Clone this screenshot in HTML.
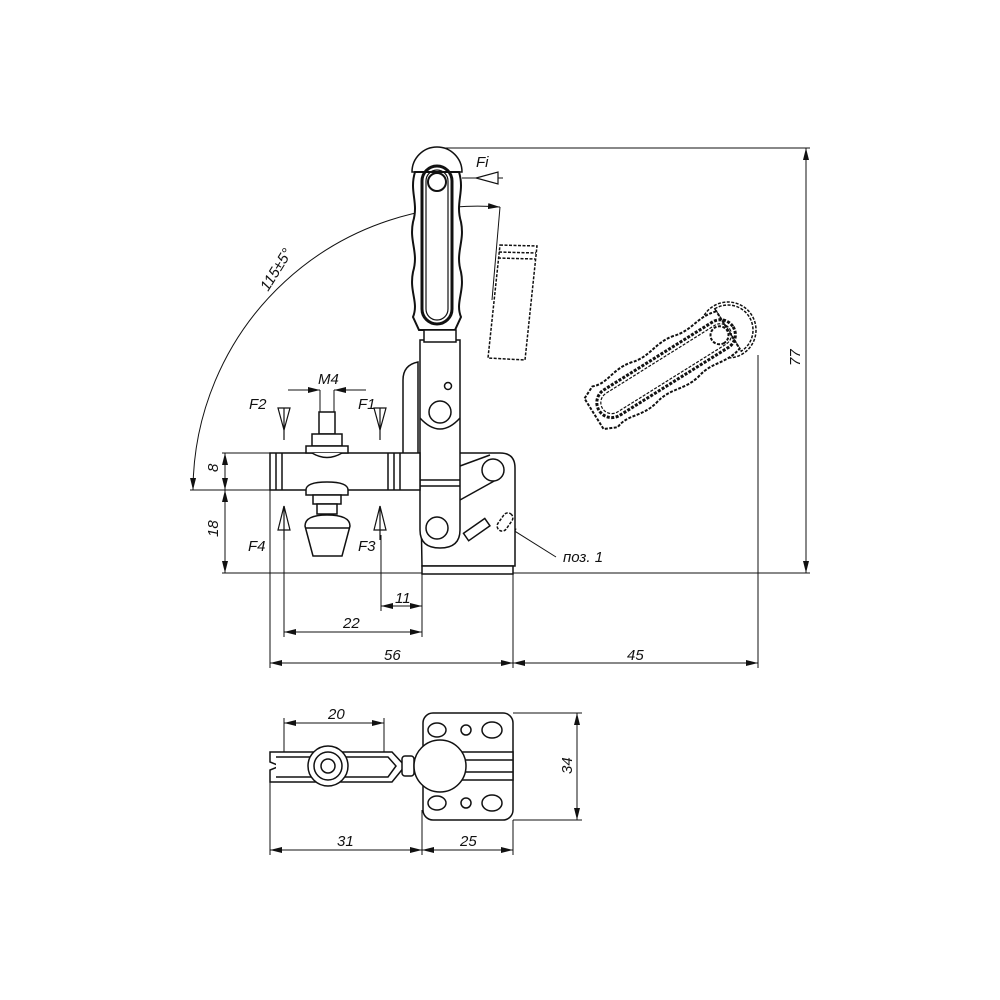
<!DOCTYPE html>
<html><head><meta charset="utf-8"><style>
html,body{margin:0;padding:0;background:#fff}
svg{display:block}
text{font-family:"Liberation Sans",sans-serif;font-style:italic;font-size:15px;fill:#111}
</style></head><body>
<svg width="1000" height="1000" viewBox="0 0 1000 1000" xmlns="http://www.w3.org/2000/svg">
<defs>
<marker id="a" viewBox="0 0 12 6" refX="12" refY="3" markerWidth="12" markerHeight="6" orient="auto-start-reverse" markerUnits="userSpaceOnUse"><path d="M0,0 L12,3 L0,6 z" fill="#111"/></marker>
<g id="handle">
 <path d="M-25,0 A25,25 0 0 1 25,0 Z" fill="#fff" stroke="#111" stroke-width="1.5"/>
 <path d="M-22,0 C-28,20 -18,30 -24,50 C-28,70 -18,80 -24,100 C-28,120 -18,130 -24,145 L-18,158 L18,158 L24,145 C18,130 28,120 24,100 C18,80 28,70 24,50 C18,30 28,20 22,0 Z" fill="#fff" stroke="#111" stroke-width="2"/>
 <rect x="-15" y="-6" width="30" height="158" rx="15" fill="none" stroke="#111" stroke-width="3"/>
 <rect x="-11" y="-2" width="22" height="150" rx="11" fill="none" stroke="#111" stroke-width="1.2"/>
 <circle cx="0" cy="10" r="9" fill="none" stroke="#111" stroke-width="2"/>
</g>
</defs>
<g fill="none" stroke="#111" stroke-width="1">
<!-- dimension 77 -->
<line x1="440" y1="148" x2="810" y2="148"/>
<line x1="222" y1="573" x2="810" y2="573"/>
<line x1="806" y1="148" x2="806" y2="573" marker-start="url(#a)" marker-end="url(#a)"/>
<!-- 8 / 18 -->
<line x1="222" y1="453" x2="272" y2="453"/>
<line x1="190" y1="490" x2="272" y2="490"/>
<line x1="225" y1="453" x2="225" y2="490" marker-start="url(#a)" marker-end="url(#a)"/>
<line x1="225" y1="490" x2="225" y2="573" marker-start="url(#a)" marker-end="url(#a)"/>
<!-- arc -->
<path d="M193,490 A285,285 0 0 1 500,207" marker-start="url(#a)" marker-end="url(#a)"/>
<line x1="500" y1="207" x2="492" y2="300"/>
<!-- extension lines -->
<line x1="270" y1="490" x2="270" y2="668"/>
<line x1="284" y1="535" x2="284" y2="637"/>
<line x1="381" y1="535" x2="381" y2="611"/>
<line x1="422" y1="573" x2="422" y2="637"/>
<line x1="513" y1="573" x2="513" y2="668"/>
<line x1="758" y1="355" x2="758" y2="668"/>
<line x1="381" y1="606" x2="422" y2="606" marker-start="url(#a)" marker-end="url(#a)"/>
<line x1="284" y1="632" x2="422" y2="632" marker-start="url(#a)" marker-end="url(#a)"/>
<line x1="270" y1="663" x2="513" y2="663" marker-start="url(#a)" marker-end="url(#a)"/>
<line x1="513" y1="663" x2="758" y2="663" marker-start="url(#a)" marker-end="url(#a)"/>
<!-- M4 -->
<line x1="288" y1="390" x2="320" y2="390" marker-end="url(#a)"/>
<line x1="366" y1="390" x2="334" y2="390" marker-end="url(#a)"/>
<line x1="320" y1="390" x2="320" y2="412"/><line x1="334" y1="390" x2="334" y2="412"/>
<!-- leader poz 1 -->
<line x1="505" y1="525" x2="556" y2="557" marker-start="url(#a)"/>
<!-- Fi -->
<line x1="462" y1="178" x2="503" y2="178"/>
</g>
<!-- force arrows -->
<g fill="#fff" stroke="#111" stroke-width="1.2">
<path d="M278,408 L290,408 L284,430 Z"/><line x1="284" y1="408" x2="284" y2="440"/>
<path d="M374,408 L386,408 L380,430 Z"/><line x1="380" y1="408" x2="380" y2="440"/>
<path d="M278,530 L290,530 L284,506 Z"/><line x1="284" y1="506" x2="284" y2="540"/>
<path d="M374,530 L386,530 L380,506 Z"/><line x1="380" y1="506" x2="380" y2="540"/>
<path d="M498,172 L498,184 L476,178 Z"/>
</g>
<!-- dashed ghost -->
<g fill="none" stroke="#111" stroke-width="1.5" stroke-dasharray="3,1.5">
<path d="M500,245 L537,246 L525,360 L488,358 Z"/>
<line x1="499" y1="252" x2="536" y2="253"/><line x1="498" y1="258" x2="535" y2="259"/>
<circle cx="728" cy="330" r="28"/>
</g>
<g transform="translate(728,330) rotate(58)" stroke-dasharray="3,1.5">
<use href="#handle"/>
</g>
<!-- main vertical handle -->
<g transform="translate(437,172)"><use href="#handle"/></g>
<g fill="#fff" stroke="#111" stroke-width="1.5">
<!-- base body -->
<path d="M420,453 L500,453 Q515,453 515,468 L515,566 L422,566 Z"/>
<rect x="422" y="566" width="91" height="8"/>
<line x1="460" y1="466" x2="490" y2="455"/><line x1="460" y1="500" x2="496" y2="480"/>
<circle cx="493" cy="470" r="11"/>
<rect x="464" y="525" width="26" height="9" transform="rotate(-35 477 530)"/>
<rect x="500" y="512" width="10" height="20" rx="5" stroke-dasharray="3,1.5" transform="rotate(35 505 522)"/>
<!-- bracket -->
<path d="M403,453 L403,380 Q403,365 418,362 L418,453"/>
<!-- arm -->
<path d="M420,340 L460,340 L460,530 Q460,548 440,548 Q420,548 420,530 Z"/>
<rect x="424" y="330" width="32" height="12"/>
<line x1="420" y1="480" x2="460" y2="480"/><line x1="420" y1="486" x2="460" y2="486"/>
<path d="M420,418 Q440,440 460,418" fill="none"/>
<circle cx="440" cy="412" r="11"/>
<circle cx="448" cy="386" r="3.5"/>
<circle cx="437" cy="528" r="11"/>
<circle cx="414" cy="470" r="5"/>
<!-- bar -->
<rect x="270" y="453" width="150" height="37"/>
<line x1="276" y1="453" x2="276" y2="490"/><line x1="282" y1="453" x2="282" y2="490"/>
<line x1="388" y1="453" x2="388" y2="490"/><line x1="394" y1="453" x2="394" y2="490"/><line x1="400" y1="453" x2="400" y2="490"/>
<!-- spindle -->
<rect x="319" y="412" width="16" height="22"/>
<rect x="312" y="434" width="30" height="12"/>
<rect x="306" y="446" width="42" height="7"/>
<path d="M312,453 Q327,462 342,453"/>
<path d="M306,490 Q306,482 327,482 Q348,482 348,490 L348,495 L306,495 Z"/>
<rect x="313" y="495" width="28" height="9"/>
<rect x="317" y="504" width="20" height="10"/>
<path d="M305,526 Q305,515 327,515 Q350,515 350,526 L342,556 L313,556 Z"/>
<line x1="305" y1="528" x2="350" y2="528"/>
</g>
<!-- bottom view -->
<g fill="none" stroke="#111" stroke-width="1">
<line x1="284" y1="723" x2="384" y2="723" marker-start="url(#a)" marker-end="url(#a)"/>
<line x1="284" y1="718" x2="284" y2="768"/><line x1="384" y1="718" x2="384" y2="768"/>
<line x1="513" y1="713" x2="582" y2="713"/><line x1="513" y1="820" x2="582" y2="820"/>
<line x1="577" y1="713" x2="577" y2="820" marker-start="url(#a)" marker-end="url(#a)"/>
<line x1="270" y1="770" x2="270" y2="855"/><line x1="422" y1="810" x2="422" y2="855"/><line x1="513" y1="820" x2="513" y2="855"/>
<line x1="270" y1="850" x2="422" y2="850" marker-start="url(#a)" marker-end="url(#a)"/>
<line x1="422" y1="850" x2="513" y2="850" marker-start="url(#a)" marker-end="url(#a)"/>
</g>
<g fill="#fff" stroke="#111" stroke-width="1.5">
<path d="M270,752 L392,752 L405,766 L392,782 L270,782 L270,770 L280,766 L270,762 Z"/>
<path d="M276,757 L388,757 L396,766 L388,777 L276,777"/>
<rect x="423" y="713" width="90" height="107" rx="10"/>
<ellipse cx="437" cy="730" rx="9" ry="7"/><ellipse cx="492" cy="730" rx="10" ry="8"/>
<ellipse cx="437" cy="803" rx="9" ry="7"/><ellipse cx="492" cy="803" rx="10" ry="8"/>
<circle cx="466" cy="730" r="5"/><circle cx="466" cy="803" r="5"/>
<rect x="460" y="752" width="53" height="28"/>
<line x1="460" y1="760" x2="513" y2="760"/><line x1="460" y1="772" x2="513" y2="772"/>
<rect x="402" y="756" width="12" height="20" rx="3"/>
<circle cx="440" cy="766" r="26"/>
<circle cx="328" cy="766" r="20"/><circle cx="328" cy="766" r="14"/><circle cx="328" cy="766" r="7"/>
</g>
<!-- labels -->
<text x="476" y="167">Fi</text>
<text x="318" y="384">M4</text>
<text x="249" y="409">F2</text>
<text x="358" y="409">F1</text>
<text x="248" y="551">F4</text>
<text x="358" y="551">F3</text>
<text x="563" y="562">поз. 1</text>
<text x="395" y="603">11</text>
<text x="343" y="628">22</text>
<text x="384" y="660">56</text>
<text x="627" y="660">45</text>
<text x="328" y="719">20</text>
<text x="337" y="846">31</text>
<text x="460" y="846">25</text>
<text transform="translate(218,472) rotate(-90)">8</text>
<text transform="translate(218,537) rotate(-90)">18</text>
<text transform="translate(800,366) rotate(-90)">77</text>
<text transform="translate(572,774) rotate(-90)">34</text>
<text transform="translate(268,292) rotate(-58)">115±5°</text>
</svg>
</body></html>
